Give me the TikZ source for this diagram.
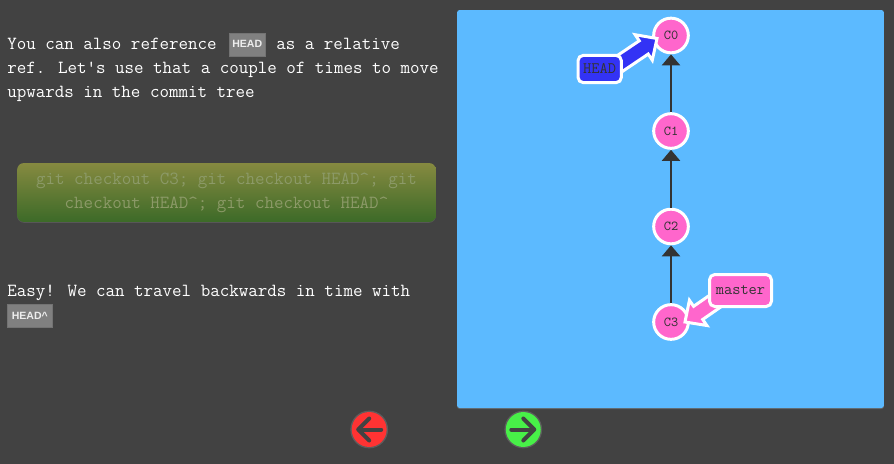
\documentclass[tikz,border=0pt]{standalone}
\usepackage{fontspec}
\usepackage{xcolor}
\usetikzlibrary{arrows.meta,calc,shadows}
\newfontfamily\tagfont{Liberation Sans}
\definecolor{pagegray}{HTML}{424242}
\definecolor{panelblue}{HTML}{5CBAFF}
\definecolor{commitpink}{HTML}{FF66CC}
\definecolor{headblue}{HTML}{3333F5}
\definecolor{edgedark}{HTML}{333333}
\definecolor{tagfill}{HTML}{808080}
\definecolor{cmdtext}{HTML}{8C9A68}
\definecolor{cmdtop}{HTML}{868A40}
\definecolor{cmdbottom}{HTML}{3C6A28}
\definecolor{nextgreen}{HTML}{48F048}
\pgfdeclarelayer{tree}
\pgfdeclarelayer{ref}
\pgfsetlayers{tree,ref,main}
\tikzset{
  para/.style={anchor=base west,inner sep=0pt,text=white,font=\ttfamily\fontsize{13.86}{13.86}\selectfont},
  tag/.style={fill=tagfill,draw=black!55,line width=0.4pt,inner sep=0pt,text=white!93!black,font=\tagfont\bfseries\fontsize{7.9}{8}\selectfont,minimum height=17.2pt},
  commit/.style={circle,draw=white,fill=commitpink,line width=2.25pt,minimum size=26pt,inner sep=0pt,text=black!80,font=\ttfamily\fontsize{10.3}{10.3}\selectfont},
  parentedge/.style={draw=edgedark,line width=1.6pt,-{Triangle[length=8.25pt,width=13.5pt]}},
  refbox/.style={draw=white,line width=2.25pt,rounded corners=4pt,inner sep=0pt,text=black!80,font=\ttfamily\fontsize{12}{12}\selectfont},
  refarrow/.style={draw=white,line width=2.25pt,miter limit=10},
  navbutton/.style={circle,minimum size=26.2pt,inner sep=0pt,drop shadow={shadow xshift=0pt,shadow yshift=0pt,shadow scale=1.08,opacity=.45}},
  navicon/.style={draw=pagegray,line width=3pt,line cap=round,line join=round}
}
% arrow of a branch label: #1 start, #2 tip, #3 colour
\newcommand{\refedge}[3]{%
  \coordinate (refbase) at ($(#2)!12pt!(#1)$);
  \draw[refarrow,fill=#3] (#2) -- ($(refbase)!11.5pt!90:(#2)$) -- ($(refbase)!6pt!90:(#2)$) -- ($(#1)!6pt!90:(#2)$) -- ($(#1)!6pt!-90:(#2)$) -- ($(refbase)!6pt!-90:(#2)$) -- ($(refbase)!11.5pt!-90:(#2)$) -- cycle;
}
\begin{document}
\begin{tikzpicture}[x=0.75pt,y=0.75pt,yscale=-1,xscale=1]
\useasboundingbox (0,0) rectangle (894,464);
%left text
\node[para] (line1a) at (7,49) {You can also reference};
\node[tag,minimum width=27.2pt] (headtag) at (247.2,44.3) {HEAD};
\node[para] (line1b) at (276,49) {as a relative};
\node[para] (line2) at (7,73) {ref. Let's use that a couple of times to move};
\node[para] (line3) at (7,97) {upwards in the commit tree};
%command box
\node[rounded corners=5pt,minimum width=314pt,minimum height=44.2pt,inner sep=0pt,top color=cmdtop,bottom color=cmdbottom,drop shadow={shadow xshift=0pt,shadow yshift=-0.6pt,opacity=.35},
  text=cmdtext,align=center,font=\ttfamily\fontsize{13.86}{18}\selectfont] (command) at (226.5,192.5) {git checkout C3; git checkout HEAD\string^; git\\checkout HEAD\string^; git checkout HEAD\string^};
\node[para] (line4) at (7,296) {Easy! We can travel backwards in time with};
\node[tag,minimum width=33.6pt] (headcaret) at (29.8,315.7) {HEAD\string^};
%commit tree
\begin{pgfonlayer}{tree}
\fill[pagegray] (0,0) rectangle (894,464);
\node[fill=panelblue,rounded corners=2pt,minimum width=320.2pt,minimum height=298.5pt,inner sep=0pt,drop shadow={shadow xshift=0pt,shadow yshift=-0.8pt,opacity=.5}] (panel) at (670.5,209) {};
\node[commit] (C0) at (671,35.5) {C0};
\node[commit] (C1) at (671,131) {C1};
\node[commit] (C2) at (671,226.5) {C2};
\node[commit] (C3) at (671,322) {C3};
\draw[parentedge] (C1) -- (C0);
\draw[parentedge] (C2) -- (C1);
\draw[parentedge] (C3) -- (C2);
\end{pgfonlayer}
%branch labels
\node[refbox,fill=headblue,minimum width=32.5pt,minimum height=20.5pt] (HEADref) at (599.7,69) {HEAD};
\node[refbox,fill=commitpink,minimum width=46.5pt,minimum height=24pt] (masterref) at (740.5,290.5) {master};
\begin{pgfonlayer}{ref}
\coordinate (headfrom) at ($(HEADref)+(12,0)$);
\coordinate (headto) at ($(C0)+(-14,3)$);
\refedge{headfrom}{headto}{headblue}
\coordinate (masterfrom) at ($(masterref)+(-10,0)$);
\coordinate (masterto) at ($(C3)+(14,0)$);
\refedge{masterfrom}{masterto}{commitpink}
\end{pgfonlayer}
%buttons
\node[navbutton,fill=red!80!white] (prevbtn) at (369.2,429.5) {};
\node[navbutton,fill=nextgreen] (nextbtn) at (523.3,429.5) {};
\draw[navicon] ($(prevbtn)+(12,0)$) -- ($(prevbtn)+(-10,0)$);
\draw[navicon] ($(prevbtn)+(0,-11)$) -- ($(prevbtn)+(-11,0)$) -- ($(prevbtn)+(0,11)$);
\draw[navicon] ($(nextbtn)+(-12,0)$) -- ($(nextbtn)+(10,0)$);
\draw[navicon] ($(nextbtn)+(0,-11)$) -- ($(nextbtn)+(11,0)$) -- ($(nextbtn)+(0,11)$);
\end{tikzpicture}
\end{document}
